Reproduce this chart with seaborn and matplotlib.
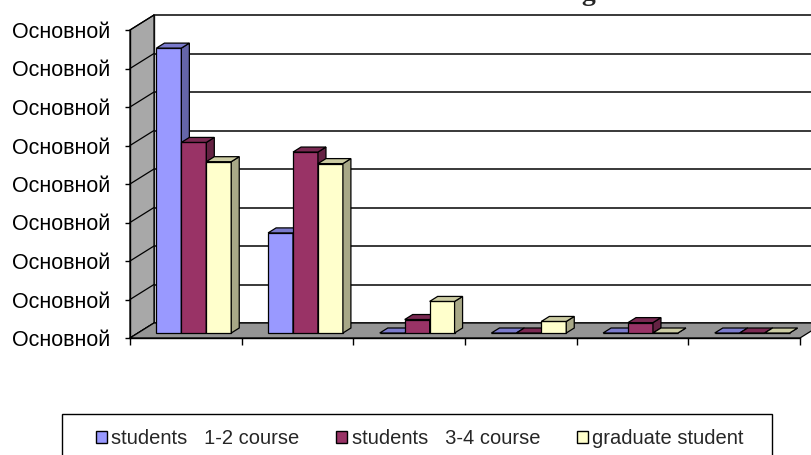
import numpy as np
import pandas as pd
import matplotlib
matplotlib.use("Agg")
import matplotlib.pyplot as plt
import seaborn as sns
from matplotlib.patches import Polygon, Patch, Rectangle
from matplotlib.lines import Line2D
from matplotlib.transforms import IdentityTransform

# ---------------- data ----------------
categories = ["c1", "c2", "c3", "c4", "c5", "c6"]
series = ["students   1-2 course", "students   3-4 course", "graduate student"]
students_1_2 = [7.4, 2.6, 0.0, 0.0, 0.0, 0.0]
students_3_4 = [4.95, 4.7, 0.35, 0.0, 0.27, 0.0]
graduate = [4.45, 4.4, 0.82, 0.3, 0.0, 0.0]
ytick_values = [0, 1, 2, 3, 4, 5, 6, 7, 8]
ytick_labels = ["Основной"] * 9
title_text = "Reading"

colors = ["#9999FF", "#993366", "#FFFFCC"]

df = pd.DataFrame({
    "category": categories * 3,
    "series": [series[0]] * 6 + [series[1]] * 6 + [series[2]] * 6,
    "value": students_1_2 + students_3_4 + graduate,
})

# ---------------- figure ----------------
W, H, DPI = 812, 455, 100
sns.set_theme(style="white")
plt.rcParams["font.family"] = ["Liberation Sans", "DejaVu Sans"]
fig = plt.figure(figsize=(W / DPI, H / DPI), dpi=DPI)
ax = fig.add_axes([130 / W, (H - 338) / H, 670 / W, 308 / H])
ax.patch.set_visible(False)

sns.barplot(data=df, x="category", y="value", hue="series", order=categories,
            hue_order=series, palette=colors, width=0.67, saturation=1,
            errorbar=None, edgecolor="black", linewidth=0.8, legend=False, ax=ax)
bars = sorted([p for p in ax.patches if isinstance(p, Rectangle)],
              key=lambda p: p.get_x())

ax.set_xlim(-0.5, len(categories) - 0.5)
ax.set_ylim(0, 8)
ax.set_xlabel("")
ax.set_ylabel("")

# depth vector (pixels) of the 3D box
DX, DY = 24.0, 15.0
def P(x, y, d):
    px, py = ax.transData.transform((x, y))
    return (px + d * DX, py + d * DY)

ident = IdentityTransform()
x0, x1 = -0.5, len(categories) - 0.5

# back wall gridlines
for v in ytick_values:
    a, b = P(x0, v, 1), P(x1, v, 1)
    ax.add_line(Line2D([a[0], b[0]], [a[1], b[1]], color="#2a2a2a", lw=1.3,
                       transform=ident, clip_on=False, zorder=1))
a, b = P(x0, 0, 1), P(x0, 8, 1)
ax.add_line(Line2D([a[0], b[0]], [a[1], b[1]], color="#2a2a2a", lw=1.0,
                   transform=ident, clip_on=False, zorder=1))

# left wall
ax.add_patch(Polygon([P(x0, 0, 0), P(x0, 8, 0), P(x0, 8, 1), P(x0, 0, 1)],
                     closed=True, facecolor="#A8A8A8", edgecolor="black", lw=0.9,
                     transform=ident, clip_on=False, zorder=1.2))
for v in ytick_values:
    a, b = P(x0, v, 0), P(x0, v, 1)
    ax.add_line(Line2D([a[0], b[0]], [a[1], b[1]], color="black", lw=0.9,
                       transform=ident, clip_on=False, zorder=1.3))

# floor
ax.add_patch(Polygon([P(x0, 0, 0), P(x1, 0, 0), P(x1, 0, 1), P(x0, 0, 1)],
                     closed=True, facecolor="#959595", edgecolor="black", lw=0.9,
                     transform=ident, clip_on=False, zorder=1.4))

# ---------------- 3D bars ----------------
def shade(c, f):
    r, g, b = matplotlib.colors.to_rgb(c)
    return (r * f, g * f, b * f)

fa, fb = 1 / 3, 2 / 3
for k, p in enumerate(bars):
    bx0 = p.get_x()
    bx1 = bx0 + p.get_width()
    h = p.get_height()
    fc = p.get_facecolor()
    base_z = 10 + 3 * k
    front = Polygon([P(bx0, 0, fa), P(bx1, 0, fa), P(bx1, h, fa), P(bx0, h, fa)],
                    closed=True, facecolor=fc, edgecolor="black", lw=0.9,
                    transform=ident, clip_on=False, zorder=base_z)
    side = Polygon([P(bx1, 0, fa), P(bx1, h, fa), P(bx1, h, fb), P(bx1, 0, fb)],
                   closed=True, facecolor=shade(fc, 0.66), edgecolor="black", lw=0.9,
                   transform=ident, clip_on=False, zorder=base_z + 1)
    top = Polygon([P(bx0, h, fa), P(bx1, h, fa), P(bx1, h, fb), P(bx0, h, fb)],
                  closed=True, facecolor=shade(fc, 0.8), edgecolor="black", lw=0.9,
                  transform=ident, clip_on=False, zorder=base_z + 2)
    ax.add_patch(front)
    ax.add_patch(side)
    ax.add_patch(top)
    p.set_visible(False)

# ---------------- axes ----------------
for s in ["top", "right"]:
    ax.spines[s].set_visible(False)
for s in ["left", "bottom"]:
    ax.spines[s].set_color("black")
    ax.spines[s].set_linewidth(1.0)
    ax.spines[s].set_zorder(1.5)
ax.set_yticks(ytick_values)
ax.set_yticklabels(ytick_labels, fontsize=15.5, color="black")
ax.set_xticks(np.arange(len(categories) + 1) - 0.5)
ax.set_xticklabels([""] * (len(categories) + 1))
ax.tick_params(axis="y", direction="out", length=3.5, width=1, color="black",
               pad=11, left=True)
ax.tick_params(axis="x", direction="out", length=5, width=1, color="black",
               bottom=True)

# ---------------- title (cut off at the top, as in the reference) ----------------
fig.text(596 / W, 1 + 0.5 / H, title_text, ha="right", va="baseline",
         fontsize=20, fontweight="bold", family=["Liberation Serif", "DejaVu Serif"])

# ---------------- legend ----------------
handles = [Patch(facecolor=c, edgecolor="black", lw=1.0) for c in colors]
leg = fig.legend(handles, series, loc="center left",
                 bbox_to_anchor=(96 / W, 1 - 438.5 / H), ncol=3, frameon=False,
                 fontsize=14.5, handlelength=0.55, handleheight=0.55,
                 handletextpad=0.2, columnspacing=1.84, borderpad=0,
                 borderaxespad=0)
fig.add_artist(Rectangle((62 / W, -0.05), 710 / W, 0.05 + (H - 414) / H,
                         transform=fig.transFigure, facecolor="none",
                         edgecolor="black", lw=1.0))

fig.savefig("out.png", dpi=DPI)
